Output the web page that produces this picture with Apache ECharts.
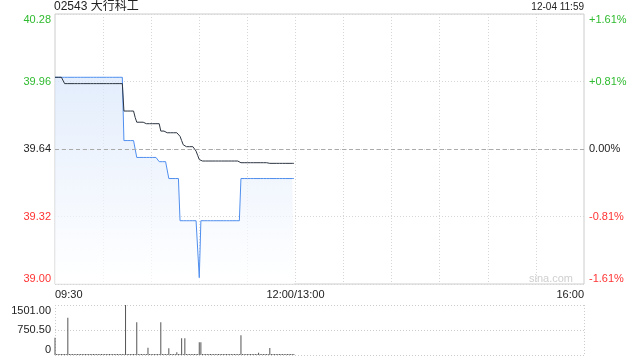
<!DOCTYPE html>
<html><head><meta charset="utf-8">
<script src="https://cdn.jsdelivr.net/npm/echarts@6/dist/echarts.min.js"></script>
<style>html,body{margin:0;padding:0;background:#fff}#c{width:640px;height:360px}</style>
</head><body><div id="c"></div>
<script>
const stockTitle = '02543 大行科工';
const stampText = '12-04 11:59';
const watermark = 'sina.com';
const prevClose = 39.64;
const priceMin = 39.00, priceMax = 40.28, priceStep = 0.32;
const priceTickLabels = ['39.00', '39.32', '39.64', '39.96', '40.28'];
const pctTickLabels = ['-1.61%', '-0.81%', '0.00%', '+0.81%', '+1.61%'];
const volMax = 1501, volStep = 750.5;
const volTickLabels = ['0', '750.50', '1501.00'];
const xLabelIndex = [0, 150, 330];
const xLabelText = ['09:30', '12:00/13:00', '16:00'];

// per-minute price from 09:30 to 11:59
const price = [
  39.98,39.98,39.98,39.98,39.98,39.98,39.98,39.98,39.98,39.98,
  39.98,39.98,39.98,39.98,39.98,39.98,39.98,39.98,39.98,39.98,
  39.98,39.98,39.98,39.98,39.98,39.98,39.98,39.98,39.98,39.98,
  39.98,39.98,39.98,39.98,39.98,39.98,39.98,39.98,39.98,39.98,
  39.98,39.98,39.98,39.68,39.68,39.68,39.68,39.68,39.68,39.68,
  39.68,39.60,39.60,39.60,39.60,39.60,39.60,39.60,39.60,39.60,
  39.60,39.60,39.60,39.60,39.60,39.58,39.58,39.58,39.58,39.58,
  39.58,39.50,39.50,39.50,39.50,39.50,39.50,39.50,39.30,39.30,
  39.30,39.30,39.30,39.30,39.30,39.30,39.30,39.30,39.30,39.30,
  39.03,39.30,39.30,39.30,39.30,39.30,39.30,39.30,39.30,39.30,
  39.30,39.30,39.30,39.30,39.30,39.30,39.30,39.30,39.30,39.30,
  39.30,39.30,39.30,39.30,39.30,39.30,39.50,39.50,39.50,39.50,
  39.50,39.50,39.50,39.50,39.50,39.50,39.50,39.50,39.50,39.50,
  39.50,39.50,39.50,39.50,39.50,39.50,39.50,39.50,39.50,39.50,
  39.50,39.50,39.50,39.50,39.50,39.50,39.50,39.50,39.50,39.50
];
// per-minute average price
const avgPrice = [
  39.98,39.98,39.98,39.98,39.98,39.98,39.95,39.95,39.95,39.95,
  39.95,39.95,39.95,39.95,39.95,39.95,39.95,39.95,39.95,39.95,
  39.95,39.95,39.95,39.95,39.95,39.95,39.95,39.95,39.95,39.95,
  39.95,39.95,39.95,39.95,39.95,39.95,39.95,39.95,39.95,39.95,
  39.95,39.95,39.95,39.82,39.82,39.82,39.82,39.82,39.82,39.82,
  39.79,39.767,39.767,39.767,39.767,39.767,39.767,39.76,39.76,39.76,
  39.76,39.76,39.76,39.76,39.76,39.76,39.725,39.725,39.725,39.725,
  39.717,39.717,39.717,39.717,39.717,39.717,39.717,39.71,39.70,39.68,
  39.66,39.651,39.651,39.651,39.651,39.651,39.651,39.651,39.63,39.61,
  39.59,39.583,39.583,39.583,39.583,39.583,39.583,39.583,39.583,39.583,
  39.583,39.583,39.583,39.583,39.583,39.583,39.583,39.583,39.583,39.583,
  39.583,39.583,39.583,39.583,39.583,39.583,39.575,39.575,39.575,39.575,
  39.575,39.575,39.575,39.575,39.575,39.575,39.575,39.575,39.575,39.575,
  39.575,39.575,39.575,39.575,39.572,39.572,39.572,39.572,39.572,39.572,
  39.572,39.572,39.572,39.572,39.572,39.572,39.572,39.572,39.572,39.572
];
// per-minute volume
const volume = [
  520,30,30,30,30,30,30,30,1121,30,
  30,30,30,30,30,30,30,30,30,30,
  30,30,30,30,30,30,30,30,30,30,
  30,30,30,30,30,30,30,30,30,30,
  30,30,30,30,1501,30,30,30,30,30,
  30,981,30,30,30,30,30,30,220,30,
  30,30,30,30,30,30,981,30,30,30,
  30,200,30,30,30,30,80,30,30,500,
  30,500,30,30,30,30,30,30,30,30,
  380,380,30,30,30,30,30,30,30,30,
  30,30,30,30,30,30,30,30,30,30,
  30,30,30,30,30,30,590,30,30,30,
  30,30,30,30,30,30,30,70,30,30,
  30,30,30,30,210,30,30,30,30,30,
  30,30,30,30,30,30,30,30,30,30
];

const categories = [];
for (let m = 0; m <= 330; m++) {
  const t = m <= 150 ? 570 + m : 780 + (m - 150);
  categories.push(String(Math.floor(t / 60)).padStart(2, '0') + ':' + String(t % 60).padStart(2, '0'));
}

const FONT = 'Arial, "Liberation Sans", "Noto Sans CJK SC", sans-serif';
const GREEN = '#2fbb2f', RED = '#ff3333', DARK = '#222';
const tickIdx = v => Math.round((v - priceMin) / priceStep);
const tickColor = v => { const i = tickIdx(v); return i > 2 ? GREEN : (i < 2 ? RED : DARK); };

const chart = echarts.init(document.getElementById('c'), null, { renderer: 'canvas' });
chart.setOption({
  animation: false,
  textStyle: { fontFamily: FONT },
  title: [
    { text: stockTitle, left: 54, top: 1, padding: 0, textStyle: { fontSize: 12, fontWeight: 'normal', color: DARK, fontFamily: FONT } },
    { text: stampText, right: 56, top: 2, padding: 0, textStyle: { fontSize: 10, fontWeight: 'normal', color: DARK, fontFamily: FONT } },
    { text: watermark, right: 67, top: 273, padding: 0, textStyle: { fontSize: 11, fontWeight: 'normal', color: '#cfcfcf', fontFamily: FONT } }
  ],
  grid: [
    { left: 55, right: 56, top: 14, height: 270, show: true, borderColor: '#cccccc', borderWidth: 1 },
    { left: 55, right: 56, top: 305, height: 50 }
  ],
  xAxis: [
    {
      type: 'category', gridIndex: 0, data: categories, boundaryGap: false,
      axisLine: { show: false }, axisTick: { show: false },
      axisLabel: {
        interval: (i) => xLabelIndex.indexOf(i) >= 0,
        formatter: (v, i) => { const k = xLabelIndex.indexOf(i); return k >= 0 ? xLabelText[k] : ''; },
        fontSize: 11, color: DARK, margin: 5, alignMinLabel: 'left', alignMaxLabel: 'right', showMinLabel: true, showMaxLabel: true
      },
      splitLine: { show: true, interval: (i) => i % 30 === 0 && i > 0 && i < 330, lineStyle: { color: '#d6d6d6', type: [1, 2], width: 1 } }
    },
    {
      type: 'category', gridIndex: 1, data: categories, boundaryGap: false,
      axisLine: { show: false }, axisTick: { show: false }, axisLabel: { show: false },
      splitLine: { show: true, interval: (i) => i === 0 || i === 330, lineStyle: { color: '#cccccc', type: [1, 2], width: 1 } }
    }
  ],
  yAxis: [
    {
      type: 'value', gridIndex: 0, min: priceMin, max: priceMax, interval: priceStep, scale: true,
      axisLine: { show: false }, axisTick: { show: false },
      axisLabel: {
        fontSize: 11, margin: 4,
        formatter: (v) => priceTickLabels[tickIdx(v)],
        color: (v) => tickColor(v),
        verticalAlignMinLabel: 'bottom', verticalAlignMaxLabel: 'top'
      },
      splitLine: { show: true, lineStyle: { color: '#d6d6d6', type: [1, 2], width: 1 } }
    },
    {
      type: 'value', gridIndex: 0, position: 'right', min: priceMin, max: priceMax, interval: priceStep, scale: true,
      axisLine: { show: false }, axisTick: { show: false },
      axisLabel: {
        fontSize: 11, margin: 5,
        formatter: (v) => pctTickLabels[tickIdx(v)],
        color: (v) => tickColor(v),
        verticalAlignMinLabel: 'bottom', verticalAlignMaxLabel: 'top'
      },
      splitLine: { show: false }
    },
    {
      type: 'value', gridIndex: 1, min: 0, max: volMax, interval: volStep,
      axisLine: { show: false }, axisTick: { show: false },
      axisLabel: {
        fontSize: 11, margin: 4, color: DARK,
        formatter: (v) => volTickLabels[Math.round(v / volStep)],
        verticalAlignMinLabel: 'bottom', verticalAlignMaxLabel: 'top'
      },
      splitLine: { show: true, lineStyle: { color: '#cccccc', type: [1, 2], width: 1 } }
    }
  ],
  series: [
    {
      name: 'price', type: 'line', xAxisIndex: 0, yAxisIndex: 0, data: price,
      symbol: 'none', lineStyle: { color: '#4f8eee', width: 1 }, itemStyle: { color: '#4f8eee' },
      areaStyle: {
        origin: 'start',
        color: new echarts.graphic.LinearGradient(0, 0, 0, 1, [
          { offset: 0, color: 'rgba(215,229,250,1)' },
          { offset: 1, color: 'rgba(255,255,255,1)' }
        ])
      },
      z: 3
    },
    {
      name: 'avg', type: 'line', xAxisIndex: 0, yAxisIndex: 0, data: avgPrice,
      symbol: 'none', lineStyle: { color: '#2c3440', width: 1 }, itemStyle: { color: '#2c3440' }, z: 4,
      markLine: {
        silent: true, symbol: 'none', label: { show: false },
        lineStyle: { color: '#aaaaaa', type: [4, 3], width: 1 },
        data: [{ yAxis: prevClose }]
      }
    },
    {
      name: 'volume', type: 'bar', xAxisIndex: 1, yAxisIndex: 2, data: volume,
      barWidth: 1, itemStyle: { color: '#555555' }
    }
  ]
});
</script>
</body></html>
